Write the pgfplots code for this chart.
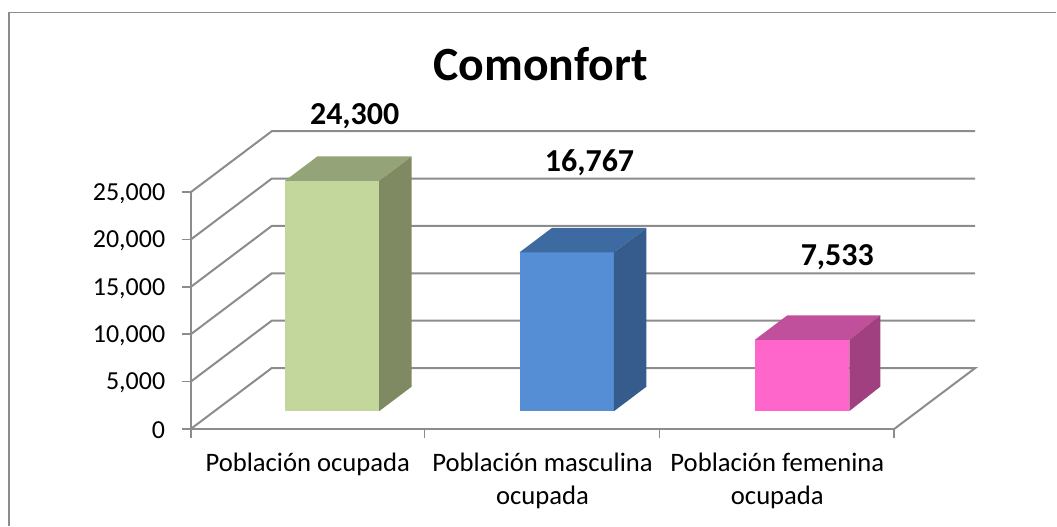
\documentclass[border=0pt]{standalone}
\usepackage{fontspec}
\setmainfont{Carlito}
\usepackage{pgfplots}
\pgfplotsset{compat=1.18}
\definecolor{gridc}{HTML}{8C8C8C}
\definecolor{greenF}{HTML}{C3D69B}
\definecolor{greenT}{HTML}{95A378}
\definecolor{greenS}{HTML}{7F8A63}
\definecolor{blueF}{HTML}{558ED5}
\definecolor{blueT}{HTML}{3E6AA2}
\definecolor{blueS}{HTML}{355C8C}
\definecolor{pinkF}{HTML}{FF66CC}
\definecolor{pinkT}{HTML}{C0509C}
\definecolor{pinkS}{HTML}{A04080}
% x is in picture pixels, y in data units; 1 px = 105.485 units
\pgfplotsset{
	wall/.style={gridc, line width=1.5pt, forget plot},
	% bars stand a little in front of the back wall, above the front edge
	bar/.style={draw=none, forget plot, y filter/.expression={y+1878}},
}
\begin{document}
\begin{tikzpicture}
	\begin{axis}[
		scale only axis, width=528pt, height=177.75pt,
		xmin=191, xmax=895, ymin=0, ymax=25000,
		clip=false, axis lines=left, axis line style={-, gridc, line width=1.5pt},
		ytick={0,5000,10000,15000,20000,25000},
		scaled y ticks=false,
		y tick label style={/pgf/number format/1000 sep={,}, /pgf/number format/assume math mode=true,
			font=\fontsize{19.5}{24}\selectfont, xshift=-9pt, yshift=-1.2pt},
		xtick={308,543,778},
		xticklabels={Población ocupada,{Población masculina\\ocupada},{Población femenina\\ocupada}},
		x tick label style={font=\fontsize{20}{24.4}\selectfont, align=center, anchor=north, yshift=-8pt},
		minor xtick={191,425,660,895},
		tick align=outside, major tick length=6.75pt, minor tick length=6.75pt,
		tick style={gridc, line width=1.2pt},
		major x tick style={draw=none},
	]
		% outer frame, only left and top are inside the picture
		\addplot[gridc, line width=1.3pt, forget plot] coordinates {(9,-10200) (9,43960) (1057,43960)};
		% side wall and back wall
		\addplot[wall] coordinates {(191,0) (272,6429) (976,6429) (895,0)};
		\addplot[wall] coordinates {(191,5000) (272,11429) (976,11429)};
		\addplot[wall] coordinates {(191,10000) (272,16429) (976,16429)};
		\addplot[wall] coordinates {(191,15000) (272,21429) (976,21429)};
		\addplot[wall] coordinates {(191,20000) (272,26429) (976,26429)};
		\addplot[wall] coordinates {(191,25000) (272,31429) (976,31429)};
		% Población ocupada
		\addplot[bar, fill=greenF] coordinates {(285,0) (379.5,0) (379.5,24300) (285,24300)} --cycle;
		\addplot[bar, fill=greenT] coordinates {(285,24300) (379.5,24300) (412,26884) (317.5,26884)} --cycle;
		\addplot[bar, fill=greenS] coordinates {(379.5,0) (412,2584) (412,26884) (379.5,24300)} --cycle;
		% Población masculina ocupada
		\addplot[bar, fill=blueF] coordinates {(520,0) (614.5,0) (614.5,16767) (520,16767)} --cycle;
		\addplot[bar, fill=blueT] coordinates {(520,16767) (614.5,16767) (647,19351) (552.5,19351)} --cycle;
		\addplot[bar, fill=blueS] coordinates {(614.5,0) (647,2584) (647,19351) (614.5,16767)} --cycle;
		% Población femenina ocupada
		\addplot[bar, fill=pinkF] coordinates {(755.5,0) (850,0) (850,7533) (755.5,7533)} --cycle;
		\addplot[bar, fill=pinkT] coordinates {(755.5,7533) (850,7533) (881,10117) (788,10117)} --cycle;
		\addplot[bar, fill=pinkS] coordinates {(850,0) (881,2584) (881,10117) (850,7533)} --cycle;
		% title and value labels
		\node[font=\fontsize{35.8}{40}\bfseries\selectfont] at (axis cs:541,38500) {Comonfort};
		\node[font=\fontsize{24}{28}\bfseries\selectfont] at (axis cs:355,33000) {24,300};
		\node[font=\fontsize{24}{28}\bfseries\selectfont] at (axis cs:590,28130) {16,767};
		\node[font=\fontsize{24}{28}\bfseries\selectfont] at (axis cs:838,18110) {7,533};
		% page extent
		\path (axis cs:0,-10200) rectangle (axis cs:1057,45284);
	\end{axis}
\end{tikzpicture}
\end{document}
